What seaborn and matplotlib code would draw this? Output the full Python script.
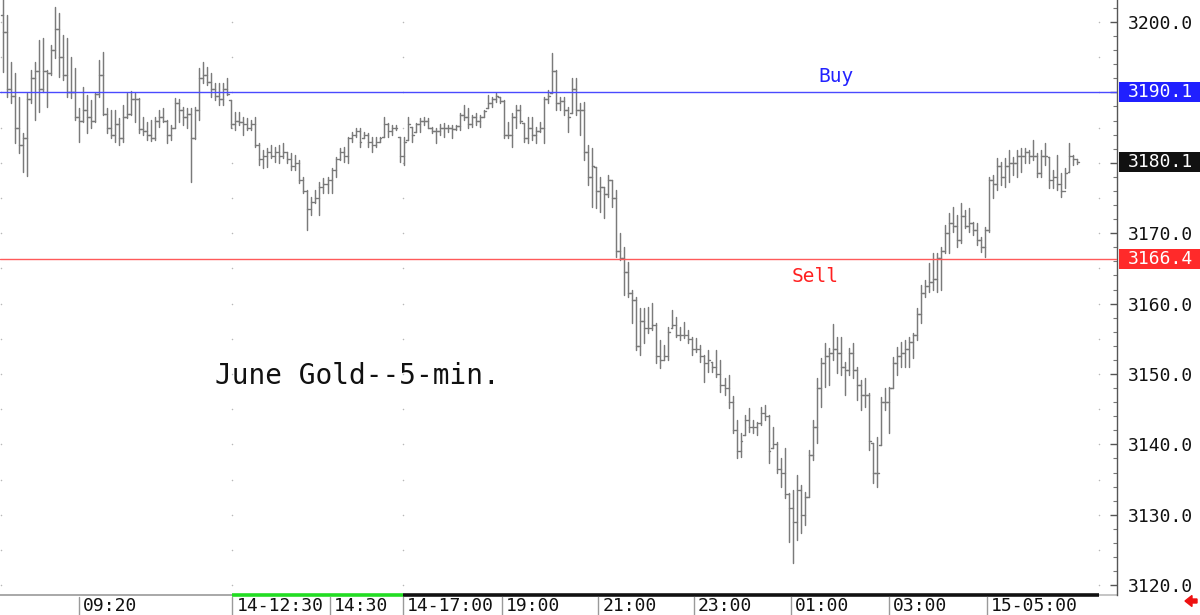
import numpy as np
import pandas as pd
import matplotlib
matplotlib.use("Agg")
import matplotlib.pyplot as plt
import matplotlib.transforms as mtransforms
from matplotlib.patches import Rectangle, FancyArrow
from matplotlib.ticker import MultipleLocator
import seaborn as sns

# ---------------- data (June Gold, 5-min bars) ----------------
highs = [
    3204.0, 3201.0, 3194.3, 3192.8, 3189.3, 3184.2, 3189.9, 3193.2, 3194.3, 3197.4,
    3197.7, 3193.2, 3196.7, 3202.1, 3201.3, 3198.2, 3197.7, 3195.0, 3193.5, 3187.8,
    3190.8, 3189.6, 3188.9, 3189.9, 3194.6, 3195.7, 3187.8, 3187.5, 3187.5, 3186.4,
    3188.2, 3189.9, 3190.2, 3189.9, 3189.2, 3186.5, 3185.8, 3186.1, 3186.5, 3187.5,
    3187.8, 3186.1, 3185.4, 3189.2, 3189.1, 3187.9, 3187.8, 3187.8, 3187.9, 3193.5,
    3194.3, 3193.6, 3192.8, 3191.3, 3191.3, 3191.3, 3192.0, 3188.9, 3187.2, 3187.2,
    3186.5, 3186.4, 3186.1, 3186.5, 3182.8, 3181.8, 3182.1, 3182.5, 3182.2, 3182.5,
    3182.8, 3181.5, 3181.4, 3181.1, 3180.4, 3178.0, 3176.1, 3175.1, 3176.1, 3177.3,
    3177.8, 3178.0, 3179.3, 3180.8, 3182.1, 3182.2, 3183.7, 3184.4, 3184.9, 3184.9,
    3184.4, 3184.2, 3183.7, 3183.7, 3183.7, 3186.5, 3185.6, 3185.4, 3185.4, 3183.7,
    3183.7, 3186.5, 3185.1, 3185.6, 3186.4, 3186.5, 3186.4, 3185.1, 3184.9, 3185.5,
    3185.6, 3185.4, 3185.4, 3185.4, 3187.1, 3188.2, 3187.8, 3186.8, 3187.1, 3186.8,
    3187.5, 3189.6, 3189.3, 3189.9, 3189.3, 3188.9, 3185.8, 3187.1, 3188.2, 3188.2,
    3185.6, 3186.5, 3186.5, 3185.1, 3185.8, 3189.3, 3190.3, 3195.6, 3193.2, 3189.3,
    3189.3, 3187.9, 3192.0, 3192.0, 3188.5, 3188.6, 3182.5, 3182.1, 3179.4, 3178.0,
    3176.6, 3178.3, 3177.6, 3176.1, 3170.0, 3168.0, 3165.9, 3161.9, 3160.9, 3159.4,
    3159.4, 3159.5, 3160.1, 3157.2, 3154.8, 3154.1, 3156.7, 3159.1, 3158.1, 3156.7,
    3157.4, 3156.3, 3155.3, 3155.1, 3154.1, 3152.7, 3153.4, 3151.7, 3153.4, 3152.0,
    3149.4, 3149.9, 3146.9, 3143.5, 3141.6, 3144.2, 3145.2, 3143.5, 3143.2, 3145.3,
    3145.6, 3144.2, 3142.5, 3140.3, 3138.1, 3139.5, 3133.1, 3133.5, 3135.6, 3134.2,
    3133.2, 3139.2, 3143.5, 3149.4, 3152.3, 3154.4, 3153.7, 3157.1, 3155.3, 3155.3,
    3151.7, 3153.7, 3154.4, 3151.0, 3149.2, 3149.4, 3147.3, 3140.2, 3141.1, 3146.7,
    3148.0, 3148.1, 3152.4, 3153.8, 3154.5, 3154.8, 3155.3, 3155.8, 3159.4, 3162.6,
    3163.4, 3165.8, 3167.2, 3167.2, 3168.0, 3171.2, 3172.9, 3173.7, 3172.6, 3174.3,
    3173.3, 3173.6, 3171.6, 3171.5, 3169.5, 3170.9, 3178.0, 3178.3, 3180.7, 3180.1,
    3180.7, 3181.8, 3180.8, 3181.8, 3182.1, 3182.1, 3181.8, 3183.2, 3181.4, 3181.8,
    3182.8, 3180.8, 3179.0, 3181.1, 3178.5, 3179.3, 3182.8, 3181.1, 3180.5,
]
lows = [
    3192.9, 3189.3, 3188.5, 3182.8, 3181.4, 3178.7, 3178.1, 3188.5, 3186.1, 3187.2,
    3190.1, 3187.9, 3192.5, 3194.9, 3192.2, 3191.8, 3189.3, 3189.2, 3186.1, 3182.9,
    3185.8, 3184.2, 3184.9, 3185.8, 3189.3, 3186.8, 3184.2, 3183.5, 3182.9, 3182.5,
    3182.9, 3186.4, 3186.8, 3185.8, 3184.2, 3184.0, 3183.2, 3183.1, 3183.2, 3185.1,
    3185.8, 3182.8, 3183.2, 3184.9, 3185.8, 3185.4, 3184.9, 3177.3, 3183.4, 3186.1,
    3191.3, 3191.0, 3189.3, 3188.9, 3188.2, 3188.2, 3189.6, 3184.9, 3184.7, 3185.4,
    3184.0, 3184.7, 3184.7, 3182.2, 3179.7, 3179.3, 3179.4, 3180.7, 3180.1, 3180.0,
    3180.7, 3180.0, 3179.0, 3179.0, 3177.1, 3175.7, 3170.5, 3172.6, 3174.3, 3172.6,
    3175.7, 3175.7, 3175.7, 3178.0, 3180.4, 3180.1, 3180.0, 3183.0, 3183.7, 3182.2,
    3183.5, 3182.2, 3181.5, 3182.2, 3182.9, 3183.7, 3183.7, 3184.0, 3184.7, 3180.1,
    3179.7, 3183.2, 3182.9, 3184.4, 3184.4, 3185.4, 3184.9, 3184.2, 3182.8, 3184.0,
    3183.7, 3184.4, 3183.5, 3184.7, 3184.7, 3186.1, 3184.9, 3185.1, 3185.4, 3185.1,
    3186.5, 3187.8, 3187.9, 3188.6, 3188.5, 3183.5, 3183.5, 3182.2, 3184.9, 3185.6,
    3182.9, 3182.8, 3183.2, 3182.8, 3184.4, 3182.8, 3188.5, 3189.9, 3187.5, 3187.5,
    3186.8, 3184.4, 3187.1, 3186.8, 3184.0, 3180.4, 3176.8, 3173.7, 3173.6, 3173.0,
    3172.2, 3175.1, 3173.7, 3166.6, 3166.2, 3161.2, 3160.9, 3157.2, 3153.4, 3152.7,
    3154.4, 3155.8, 3156.3, 3151.6, 3150.9, 3152.0, 3152.0, 3156.5, 3155.3, 3154.8,
    3155.1, 3154.4, 3152.7, 3153.1, 3151.7, 3148.9, 3150.3, 3150.3, 3149.6, 3147.4,
    3147.0, 3145.2, 3141.6, 3138.1, 3138.2, 3141.3, 3141.8, 3141.6, 3141.3, 3142.8,
    3143.5, 3137.4, 3139.5, 3135.9, 3133.9, 3132.4, 3126.1, 3123.1, 3126.4, 3127.4,
    3128.6, 3132.5, 3137.8, 3140.2, 3145.3, 3148.2, 3148.4, 3152.0, 3150.1, 3149.9,
    3147.0, 3149.9, 3149.4, 3146.3, 3144.9, 3145.3, 3139.2, 3134.5, 3133.9, 3139.9,
    3144.9, 3141.6, 3148.0, 3149.9, 3151.0, 3151.0, 3151.0, 3152.3, 3154.8, 3157.2,
    3160.9, 3161.6, 3161.9, 3161.6, 3161.9, 3167.2, 3167.2, 3170.2, 3168.0, 3168.6,
    3170.7, 3170.2, 3169.7, 3168.3, 3167.3, 3166.6, 3170.2, 3175.0, 3176.1, 3176.8,
    3176.6, 3177.3, 3178.3, 3178.0, 3178.7, 3180.0, 3180.0, 3180.4, 3178.0, 3178.0,
    3179.7, 3176.4, 3176.4, 3176.1, 3175.1, 3176.4, 3178.7, 3179.7, 3179.9,
]
opens = [
    3201.0, 3198.6, 3190.5, 3189.5, 3185.0, 3182.5, 3183.5, 3189.0, 3192.0, 3193.0,
    3190.5, 3193.0, 3192.8, 3196.0, 3199.0, 3195.0, 3192.5, 3190.0, 3190.0, 3186.5,
    3186.0, 3187.5, 3186.5, 3186.0, 3189.8, 3192.5, 3187.0, 3185.0, 3184.0, 3185.5,
    3183.5, 3186.5, 3187.0, 3189.0, 3189.0, 3184.8, 3184.5, 3184.0, 3183.5, 3186.0,
    3186.5, 3186.0, 3184.0, 3185.0, 3188.5, 3187.5, 3186.5, 3187.0, 3183.5, 3187.5,
    3192.0, 3192.5, 3191.5, 3190.5, 3189.5, 3189.0, 3190.5, 3188.9, 3185.5, 3186.0,
    3185.8, 3185.5, 3185.0, 3185.5, 3182.5, 3180.5, 3181.0, 3181.5, 3181.0, 3181.5,
    3181.0, 3181.5, 3180.5, 3179.5, 3180.0, 3177.5, 3176.0, 3173.5, 3174.5, 3175.0,
    3176.5, 3177.0, 3177.5, 3179.0, 3180.5, 3181.5, 3181.0, 3183.5, 3184.0, 3184.5,
    3183.5, 3184.0, 3183.0, 3182.5, 3183.0, 3183.7, 3185.5, 3184.5, 3185.0, 3183.7,
    3181.0, 3183.2, 3185.1, 3184.4, 3185.5, 3186.0, 3186.0, 3185.0, 3184.5, 3184.5,
    3185.0, 3185.0, 3185.0, 3184.8, 3185.2, 3186.8, 3186.5, 3185.5, 3186.5, 3186.0,
    3186.5, 3187.8, 3188.5, 3189.0, 3189.3, 3188.8, 3184.0, 3184.0, 3186.5, 3187.5,
    3185.6, 3183.5, 3185.0, 3184.0, 3184.5, 3185.0, 3189.0, 3189.9, 3193.0, 3188.5,
    3188.8, 3187.5, 3187.1, 3190.5, 3187.5, 3187.5, 3181.5, 3178.0, 3179.4, 3176.0,
    3176.5, 3175.5, 3177.5, 3175.0, 3167.5, 3166.5, 3164.5, 3161.5, 3160.5, 3154.0,
    3157.5, 3156.5, 3156.5, 3157.0, 3152.5, 3152.0, 3152.5, 3156.5, 3157.0, 3155.5,
    3155.5, 3155.5, 3155.0, 3153.5, 3153.5, 3152.5, 3151.5, 3151.7, 3151.0, 3150.0,
    3148.5, 3148.0, 3146.0, 3142.0, 3139.0, 3141.3, 3143.5, 3142.5, 3142.5, 3143.0,
    3144.5, 3144.0, 3139.5, 3140.0, 3136.5, 3136.0, 3133.0, 3131.0, 3129.0, 3133.5,
    3130.0, 3132.5, 3138.5, 3142.5, 3148.0, 3151.5, 3152.5, 3153.0, 3153.5, 3153.0,
    3151.0, 3150.5, 3153.0, 3150.5, 3148.5, 3147.0, 3147.0, 3140.2, 3136.0, 3139.9,
    3146.0, 3146.0, 3148.0, 3151.5, 3152.5, 3153.0, 3153.5, 3154.5, 3155.5, 3158.5,
    3161.5, 3162.5, 3163.0, 3163.5, 3166.5, 3167.5, 3170.0, 3171.5, 3171.0, 3169.0,
    3172.5, 3171.0, 3171.5, 3170.5, 3169.0, 3168.0, 3170.5, 3177.5, 3177.0, 3179.5,
    3178.0, 3179.5, 3180.0, 3180.0, 3181.0, 3181.0, 3181.5, 3181.0, 3181.0, 3178.5,
    3181.0, 3180.8, 3177.5, 3178.0, 3177.0, 3176.0, 3178.7, 3181.0, 3180.5,
]
closes = [
    3198.6, 3190.5, 3189.5, 3185.0, 3182.5, 3183.5, 3189.0, 3192.0, 3193.0, 3190.5,
    3193.0, 3192.8, 3196.0, 3199.0, 3195.0, 3192.5, 3190.0, 3190.0, 3186.5, 3186.0,
    3187.5, 3186.5, 3186.0, 3189.8, 3192.5, 3187.0, 3185.0, 3184.0, 3185.5, 3183.5,
    3186.5, 3187.0, 3189.0, 3189.0, 3184.8, 3184.5, 3184.0, 3183.5, 3186.0, 3186.5,
    3186.0, 3184.0, 3185.0, 3188.5, 3187.5, 3186.5, 3187.0, 3183.5, 3187.5, 3192.0,
    3192.5, 3191.5, 3190.5, 3189.5, 3189.0, 3190.5, 3189.8, 3185.5, 3186.0, 3185.8,
    3185.5, 3185.0, 3185.5, 3182.5, 3180.5, 3181.0, 3181.5, 3181.0, 3181.5, 3181.0,
    3181.5, 3180.5, 3179.5, 3180.0, 3177.5, 3176.0, 3173.5, 3174.5, 3175.0, 3176.5,
    3177.0, 3177.5, 3179.0, 3180.5, 3181.5, 3181.0, 3183.5, 3184.0, 3184.5, 3183.0,
    3184.0, 3183.0, 3182.5, 3183.0, 3183.5, 3185.5, 3184.5, 3185.0, 3185.0, 3181.0,
    3183.0, 3185.5, 3184.0, 3185.5, 3186.0, 3186.0, 3185.0, 3184.5, 3184.5, 3185.0,
    3185.0, 3185.0, 3184.8, 3185.2, 3186.8, 3186.5, 3185.5, 3186.5, 3186.0, 3186.5,
    3187.3, 3188.5, 3189.0, 3189.5, 3188.8, 3184.0, 3184.0, 3186.5, 3187.5, 3186.0,
    3183.5, 3185.0, 3184.0, 3184.5, 3185.0, 3189.0, 3189.5, 3193.0, 3188.5, 3188.8,
    3187.5, 3186.5, 3190.5, 3187.5, 3187.5, 3181.5, 3178.0, 3179.5, 3176.0, 3176.5,
    3175.5, 3177.5, 3175.0, 3167.5, 3166.5, 3164.5, 3161.5, 3160.5, 3154.0, 3157.5,
    3156.5, 3156.5, 3157.0, 3152.5, 3152.0, 3152.5, 3156.0, 3157.0, 3155.5, 3155.5,
    3155.5, 3155.0, 3153.5, 3153.5, 3152.5, 3151.5, 3152.0, 3151.0, 3150.0, 3148.5,
    3148.0, 3146.0, 3142.0, 3139.0, 3140.5, 3143.5, 3142.5, 3142.5, 3143.0, 3144.5,
    3144.0, 3139.0, 3140.0, 3136.5, 3136.0, 3133.0, 3131.0, 3129.0, 3133.5, 3130.0,
    3132.5, 3138.5, 3142.5, 3148.0, 3151.5, 3152.5, 3153.0, 3153.5, 3153.0, 3151.0,
    3150.5, 3153.0, 3150.5, 3148.5, 3147.0, 3147.0, 3140.5, 3136.0, 3136.0, 3146.0,
    3146.0, 3148.0, 3151.5, 3152.5, 3153.0, 3153.5, 3154.5, 3155.5, 3158.5, 3161.5,
    3162.5, 3163.0, 3163.5, 3166.5, 3167.5, 3170.0, 3171.5, 3171.0, 3169.0, 3172.5,
    3171.0, 3171.5, 3170.5, 3169.0, 3168.0, 3170.5, 3177.5, 3177.0, 3179.5, 3178.0,
    3179.5, 3180.0, 3180.0, 3181.0, 3181.0, 3181.5, 3181.0, 3181.0, 3178.5, 3181.0,
    3181.0, 3177.5, 3178.0, 3177.0, 3176.0, 3178.5, 3181.0, 3180.5, 3180.1,
]

buy_level = 3190.1
sell_level = 3166.4
last_price = 3180.1

# x-axis session labels (bar index where each label starts)
time_labels = ["09:20", "14-12:30", "14:30", "14-17:00", "19:00",
               "21:00", "23:00", "01:00", "03:00", "15-05:00"]
time_label_pos = [19.0, 57.3, 81.6, 99.8, 124.5, 148.5, 172.4, 196.6, 221.0, 245.5]
session_bounds = [57.3, 99.8, 273.4]   # green session start/end, end of black session
price_ticks = list(range(3120, 3201, 10))

title_text = "June Gold--5-min."

# ---------------- build long table for seaborn ----------------
n = len(highs)
rows = []
for i in range(n):
    rows.append((f"v{i}", i, lows[i]))
    rows.append((f"v{i}", i, highs[i]))
    rows.append((f"o{i}", i - 0.45, opens[i]))
    rows.append((f"o{i}", i, opens[i]))
    rows.append((f"c{i}", i, closes[i]))
    rows.append((f"c{i}", i + 0.45, closes[i]))
df = pd.DataFrame(rows, columns=["unit", "x", "price"])

# ---------------- figure ----------------
sns.set_theme(style="white")
plt.rcParams["font.family"] = ["DejaVu Sans Mono", "DejaVu Sans"]

W, H = 1200, 615
fig = plt.figure(figsize=(W / 100, H / 100), dpi=100)
fig.patch.set_facecolor("white")
ax_w_px, ax_h_px = 1117, 595
ax = fig.add_axes([0, 1 - ax_h_px / H, ax_w_px / W, ax_h_px / H])
ax.set_facecolor("white")

sns.lineplot(data=df, x="x", y="price", units="unit", estimator=None, sort=False,
             color="#7a7a7a", linewidth=1.05, ax=ax, legend=False)

xmin, xmax = -0.673, 277.88
ymin, ymax = 3118.61, 3203.125
ax.set_xlim(xmin, xmax)
ax.set_ylim(ymin, ymax)
ax.set_xlabel("")
ax.set_ylabel("")

# faint dotted grid at session boundaries
grid_x = [xmin + 0.15] + session_bounds
gx, gy = np.meshgrid(grid_x, np.arange(3120, 3201, 5))
ax.scatter(gx.ravel(), gy.ravel(), s=1.2, color="#b8b8b8", linewidths=0, zorder=1)

# Buy / Sell lines
ax.axhline(buy_level, color="#4a4aff", lw=1.0, zorder=3)
ax.axhline(sell_level, color="#ff5a5a", lw=1.0, zorder=3)
ax.text(836 / ax_w_px, 1 - 77 / ax_h_px, "Buy", transform=ax.transAxes,
        color="#2323ff", fontsize=14, ha="center", va="center")
ax.text(815 / ax_w_px, 1 - 277 / ax_h_px, "Sell", transform=ax.transAxes,
        color="#ff2020", fontsize=14, ha="center", va="center")
ax.text(215 / ax_w_px, 1 - 376 / ax_h_px, title_text, transform=ax.transAxes,
        color="#111111", fontsize=20, ha="left", va="center")

# spines
for s in ["top", "left", "bottom"]:
    ax.spines[s].set_visible(False)
ax.spines["right"].set_visible(True)
ax.spines["right"].set_color("#555555")
ax.spines["right"].set_linewidth(1.0)

# right price axis (labels hidden where a highlighted box sits on top)
covered = [round(buy_level), round(last_price)]
ax.yaxis.tick_right()
ax.set_yticks(price_ticks)
ax.set_yticklabels(["" if v in covered else f"{v:.1f}" for v in price_ticks])
ax.yaxis.set_minor_locator(MultipleLocator(2))
ax.tick_params(axis="y", which="major", direction="in", length=5, width=1,
               color="#555555", labelsize=13, pad=8, labelcolor="#111111")
ax.tick_params(axis="y", which="minor", direction="in", length=3, width=0.8,
               color="#777777", right=True)
ax.set_xticks([])

# highlighted price boxes on the right axis
ytrans = mtransforms.blended_transform_factory(ax.transAxes, ax.transData)
box_h = 2.84
for level, fc in [(buy_level, "#2020ff"), (last_price, "#111111"), (sell_level, "#ff2a2a")]:
    ax.add_patch(Rectangle((1.0 + 1.5 / ax_w_px, level - box_h / 2),
                           (W - ax_w_px) / ax_w_px, box_h, transform=ytrans,
                           facecolor=fc, edgecolor="none", clip_on=False, zorder=5))
    ax.text(1128 / ax_w_px, level, f"{level:.1f}", transform=ytrans, color="white",
            fontsize=13, ha="left", va="center", clip_on=False, zorder=6)

# bottom time axis band
xtrans = mtransforms.blended_transform_factory(ax.transData, ax.transAxes)
band_y = -2 / ax_h_px
ax.plot([xmin, session_bounds[0]], [0, 0], transform=xtrans, color="#9a9a9a",
        lw=1.2, clip_on=False, solid_capstyle="butt")
ax.plot([session_bounds[0], session_bounds[1]], [0, 0], transform=xtrans,
        color="#22dd22", lw=2.6, clip_on=False, solid_capstyle="butt")
ax.plot([session_bounds[1], session_bounds[2]], [0, 0], transform=xtrans,
        color="#111111", lw=2.6, clip_on=False, solid_capstyle="butt")
ax.plot([session_bounds[2], xmax], [0, 0], transform=xtrans, color="#bbbbbb",
        lw=1.2, clip_on=False, solid_capstyle="butt")
for p, lab in zip(time_label_pos, time_labels):
    ax.plot([p, p], [band_y, -20 / ax_h_px], transform=xtrans, color="#9a9a9a",
            lw=1.0, clip_on=False)
    ax.text(p + 1.0, -11 / ax_h_px, lab, transform=xtrans, fontsize=13,
            color="#111111", ha="left", va="center", clip_on=False)

# small red arrow bottom-right
fig.patches.append(FancyArrow(1197 / W, 1 - 601 / H, -12 / W, 0, width=4 / H,
                              head_width=11 / H, head_length=7 / W,
                              length_includes_head=True, transform=fig.transFigure,
                              color="#ee1111", figure=fig))

fig.savefig("out.png", dpi=100)
